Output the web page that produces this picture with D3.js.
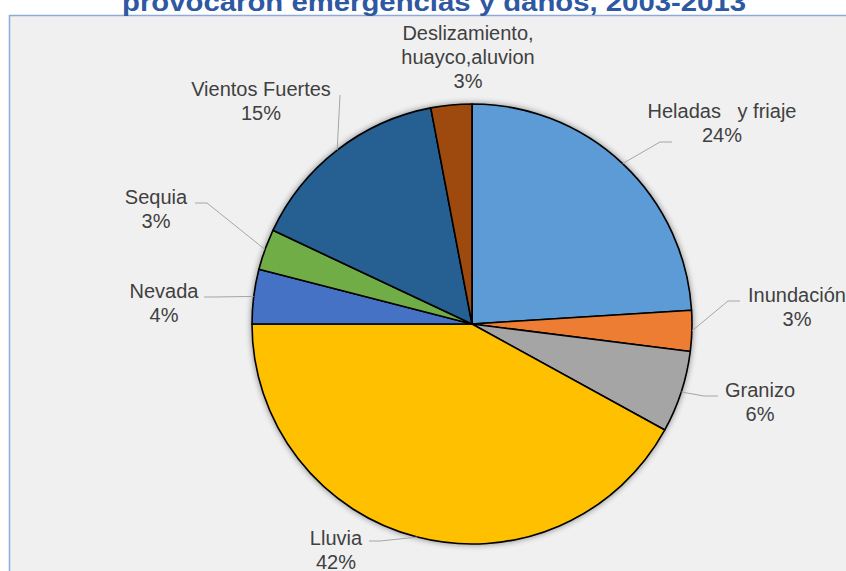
<!DOCTYPE html>
<html>
<head>
<meta charset="utf-8">
<script src="https://cdn.jsdelivr.net/npm/d3@7"></script>
<style>
  html, body { margin: 0; padding: 0; background: #ffffff; }
  svg { display: block; }
  text { font-family: "Liberation Sans", Arial, sans-serif; }
</style>
</head>
<body>
<svg id="chart" width="846" height="571"></svg>
<script>
// Emergency causes (share of events, %)
const categories = [
  "Heladas   y friaje", "Inundación", "Granizo", "Lluvia",
  "Nevada", "Sequia", "Vientos Fuertes", "Deslizamiento,\nhuayco,aluvion"
];
const values = [24, 3, 6, 42, 4, 3, 15, 3];
const colors = ["#5b9bd5", "#ed7d31", "#a5a5a5", "#ffc000",
                "#4472c4", "#70ad47", "#255e91", "#9e480e"];
const title = "provocaron emergencias y daños, 2003-2013";

// Label placement: text centre x, first baseline y, leader elbow/end
const labelLayout = [
  { x: 722, y: 118, leader: [[660, 142], [672, 142]] },
  { x: 797, y: 302, leader: [[728, 301], [740, 301]] },
  { x: 760, y: 397, leader: [[704, 396], [718, 396]] },
  { x: 336, y: 545, leader: [[380, 541], [369, 541]] },
  { x: 164, y: 298, leader: [[213, 297], [204, 297]] },
  { x: 156, y: 204, leader: [[207, 203], [195, 203]] },
  { x: 261, y: 96,  leader: [[340, 95]] },
  { x: 468, y: 40,  leader: null }
];

const svg = d3.select("#chart");
const W = 846, H = 571;
const cx = 472, cy = 324, R = 220;

// Plot area
svg.append("rect")
  .attr("x", 9.5).attr("y", 15.5)
  .attr("width", W + 20).attr("height", H + 20)
  .attr("fill", "#f0f0f0")
  .attr("stroke", "#8eaadb").attr("stroke-width", 1.5);

// Title (partially above the top edge)
svg.append("text")
  .attr("x", 434).attr("y", 11)
  .attr("text-anchor", "middle")
  .attr("font-size", 26).attr("font-weight", "bold")
  .attr("fill", "#2e58a2")
  .attr("textLength", 624).attr("lengthAdjust", "spacingAndGlyphs")
  .text(title);

// Soft shadow around the pie
const defs = svg.append("defs");
const f = defs.append("filter").attr("id", "pieShadow")
  .attr("x", "-20%").attr("y", "-20%").attr("width", "140%").attr("height", "140%");
f.append("feGaussianBlur").attr("in", "SourceAlpha").attr("stdDeviation", 3).attr("result", "b");
f.append("feComponentTransfer").attr("in", "b").attr("result", "s")
  .append("feFuncA").attr("type", "linear").attr("slope", 0.45);
const m = f.append("feMerge");
m.append("feMergeNode").attr("in", "s");
m.append("feMergeNode").attr("in", "SourceGraphic");

const data = categories.map((c, i) => ({ name: c, value: values[i], color: colors[i], layout: labelLayout[i] }));
const total = d3.sum(values);

const pie = d3.pie().value(d => d.value).sort(null);
const arcs = pie(data);
const arc = d3.arc().innerRadius(0).outerRadius(R);

const g = svg.append("g").attr("transform", `translate(${cx},${cy})`);
g.append("g").attr("filter", "url(#pieShadow)")
  .selectAll("path").data(arcs).join("path")
  .attr("d", arc)
  .attr("fill", d => d.data.color)
  .attr("stroke", "#000").attr("stroke-width", 1.6)
  .attr("stroke-linejoin", "round");

// Leader lines from the slice edge to the label
const edge = d3.arc().innerRadius(R).outerRadius(R);
arcs.forEach(a => {
  const L = a.data.layout;
  if (!L.leader) return;
  const mid = (a.startAngle + a.endAngle) / 2;
  const p0 = [cx + R * Math.sin(mid), cy - R * Math.cos(mid)];
  const pts = [p0].concat(L.leader);
  svg.append("path")
    .attr("d", d3.line()(pts))
    .attr("fill", "none")
    .attr("stroke", "#a6a6a6").attr("stroke-width", 1);
});

// Category and percentage labels
arcs.forEach(a => {
  const L = a.data.layout;
  const lines = a.data.name.split("\n");
  lines.push(Math.round(a.data.value / total * 100) + "%");
  const t = svg.append("text")
    .attr("text-anchor", "middle")
    .attr("font-size", 20)
    .attr("fill", "#404040")
    .style("white-space", "pre");
  lines.forEach((s, i) => {
    t.append("tspan").attr("x", L.x).attr("y", L.y + i * 24).text(s);
  });
});
</script>
</body>
</html>
